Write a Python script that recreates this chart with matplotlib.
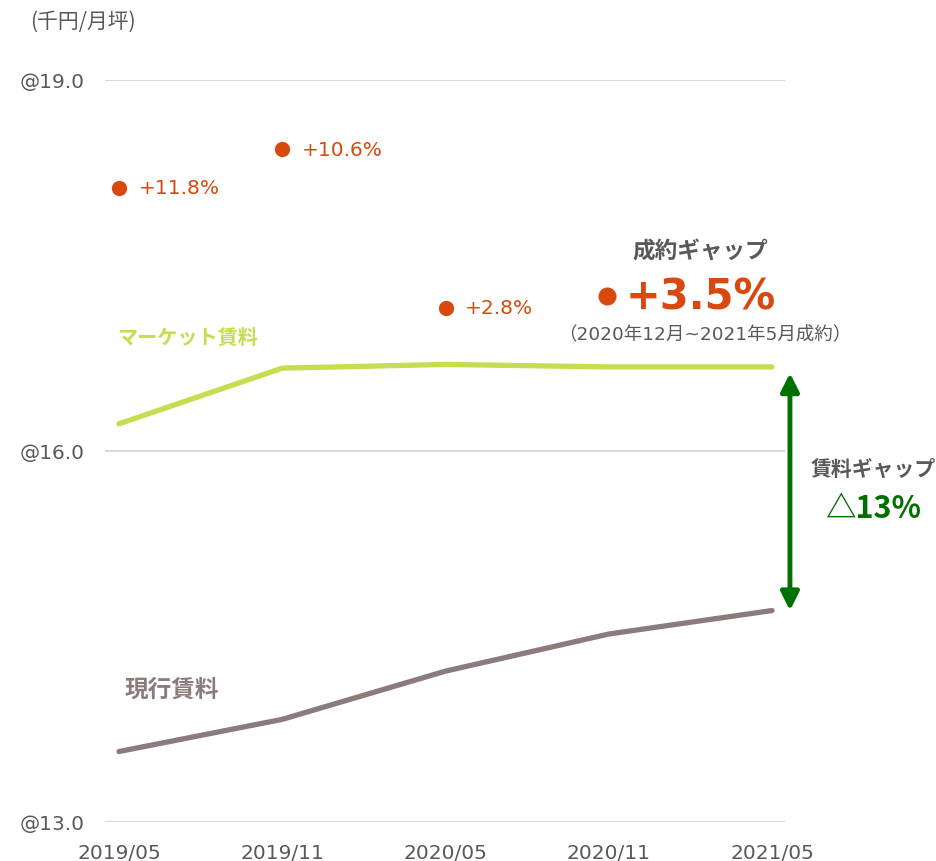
import matplotlib
matplotlib.use("Agg")
import matplotlib.pyplot as plt

plt.rcParams['font.family'] = ['DejaVu Sans', 'Noto Sans CJK JP']

# データ
months = ['2019/05', '2019/11', '2020/05', '2020/11', '2021/05']
market_rent = [16.22, 16.67, 16.70, 16.68, 16.68]   # マーケット賃料
current_rent = [13.57, 13.83, 14.22, 14.52, 14.71]  # 現行賃料
gap_idx = [0, 1, 2]
gap_vals = [18.13, 18.44, 17.16]
gap_labels = ['+11.8%', '+10.6%', '+2.8%']
latest_gap_val = 17.25
yticks = [13.0, 16.0, 19.0]

GREY = '#595959'
ORANGE = '#D9480F'
LIME = '#C8DC50'
BROWN = '#8C7B7B'
GREEN = '#007000'

fig = plt.figure(figsize=(9.36, 8.62), dpi=100)
ax = fig.add_axes([105 / 936, 1 - 823 / 862, 680 / 936, 742 / 862])

x = list(range(len(months)))
ax.plot(x, market_rent, color=LIME, lw=3.8, solid_capstyle='round')
ax.plot(x, current_rent, color=BROWN, lw=3.8, solid_capstyle='round')

# 成約ギャップの点
ax.plot(gap_idx, gap_vals, 'o', color=ORANGE, ms=11, mec='none')
for i, v, s in zip(gap_idx, gap_vals, gap_labels):
    ax.annotate(s, (i, v), xytext=(14, 0), textcoords='offset points',
                va='center', ha='left', color=ORANGE, fontsize=14.5)
ax.plot([3 - 0.012], [latest_gap_val], 'o', color=ORANGE, ms=13, mec='none')
ax.annotate('+3.5%', (3, latest_gap_val), xytext=(12, 0), textcoords='offset points',
            va='center', ha='left', color=ORANGE, fontsize=30, fontweight='bold')
ax.text(3.56, 17.62, '成約ギャップ', ha='center', va='center', color=GREY,
        fontsize=16.3, fontweight='bold', family=['Noto Sans CJK JP'])
ax.text(3.59, 16.95, '（2020年12月~2021年5月成約）', ha='center', va='center',
        color=GREY, fontsize=13.3)

# 系列ラベル
ax.text(-0.01, 16.93, 'マーケット賃料', color=LIME, fontsize=14.5,
        fontweight='bold', va='center', ha='left', family=['Noto Sans CJK JP'])
ax.text(0.035, 14.08, '現行賃料', color=BROWN, fontsize=17,
        fontweight='bold', va='center', ha='left', family=['Noto Sans CJK JP'])

# 賃料ギャップ矢印
ax.annotate('', xy=(4.11, current_rent[-1]), xytext=(4.11, market_rent[-1] - 0.05),
            arrowprops=dict(arrowstyle='<|-|>,head_length=1.1,head_width=0.55',
                            color=GREEN, lw=3.5, shrinkA=0, shrinkB=0),
            annotation_clip=False)
ax.text(4.62, 15.86, '賃料ギャップ', ha='center', va='center', color=GREY,
        fontsize=15, fontweight='bold', family=['Noto Sans CJK JP'],
        clip_on=False)
ax.text(4.62, 15.54, '△13%', ha='center', va='center', color=GREEN,
        fontsize=22, fontweight='bold', family=['Noto Sans CJK JP'],
        clip_on=False)

ax.set_xlim(-14 / 163.25, 4 + 13 / 163.25)
ax.set_ylim(13, 19)
ax.set_yticks(yticks)
ax.set_yticklabels(['@%.1f' % t for t in yticks])
ax.set_xticks(x)
ax.set_xticklabels(months)
ax.tick_params(axis='both', length=0, colors=GREY, labelsize=14.5)
ax.tick_params(axis='x', pad=15)
ax.tick_params(axis='y', pad=15)
ax.grid(axis='y', color='#D9D9D9', lw=1.5)
ax.set_axisbelow(True)
for sp in ax.spines.values():
    sp.set_visible(False)

fig.text(30 / 936, 1 - 22 / 862, '(千円/月坪)', color=GREY, fontsize=15,
         va='center', ha='left', family=['Noto Sans CJK JP'])

fig.savefig('out.png', dpi=100)
